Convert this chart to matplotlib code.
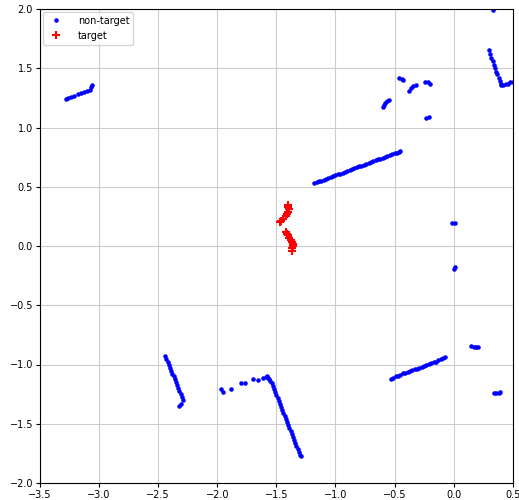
import matplotlib
matplotlib.use("Agg")
import matplotlib.pyplot as plt

# wall segments (non-target scan points)
wall_a_x = [-3.28, -3.26, -3.24, -3.21, -3.18, -3.15, -3.13, -3.10, -3.08, -3.07, -3.06]
wall_a_y = [1.24, 1.25, 1.26, 1.27, 1.28, 1.29, 1.30, 1.31, 1.32, 1.34, 1.36]

wall_b_x = [-1.18, -1.16, -1.14, -1.12, -1.10, -1.08, -1.06, -1.04, -1.02, -1.00,
            -0.98, -0.96, -0.94, -0.92, -0.90, -0.88, -0.86, -0.84, -0.82, -0.80,
            -0.78, -0.76, -0.74, -0.72, -0.70, -0.68, -0.66, -0.64, -0.62, -0.60,
            -0.58, -0.56, -0.54, -0.52, -0.50, -0.48, -0.46, -0.45]
wall_b_y = [0.530, 0.537, 0.545, 0.552, 0.560, 0.567, 0.574, 0.582, 0.589, 0.597,
            0.604, 0.611, 0.619, 0.626, 0.634, 0.641, 0.648, 0.656, 0.663, 0.671,
            0.678, 0.685, 0.693, 0.700, 0.708, 0.715, 0.722, 0.730, 0.737, 0.745,
            0.752, 0.759, 0.767, 0.774, 0.782, 0.789, 0.796, 0.800]

small_x = [-0.60, -0.59, -0.58, -0.56, -0.55,
           -0.46, -0.44, -0.43,
           -0.38, -0.36, -0.34, -0.32,
           -0.24, -0.22, -0.20,
           -0.23, -0.21,
           -0.01, 0.01, 0.00, 0.01,
           0.15, 0.17, 0.19, 0.21,
           0.34, 0.36, 0.38, 0.39,
           0.33]
small_y = [1.17, 1.19, 1.21, 1.22, 1.23,
           1.42, 1.41, 1.40,
           1.31, 1.33, 1.35, 1.36,
           1.38, 1.38, 1.37,
           1.08, 1.09,
           0.19, 0.19, -0.19, -0.18,
           -0.84, -0.85, -0.85, -0.85,
           -1.24, -1.24, -1.24, -1.23,
           1.995]

wall_c_x = [0.30, 0.31, 0.32, 0.33, 0.34, 0.35, 0.36, 0.37, 0.38, 0.39, 0.40, 0.40,
            0.42, 0.44, 0.46, 0.48, 0.50]
wall_c_y = [1.65, 1.62, 1.59, 1.56, 1.53, 1.50, 1.47, 1.45, 1.42, 1.39, 1.37, 1.36,
            1.36, 1.37, 1.37, 1.38, 1.38]

wall_d_x = [-2.44, -2.43, -2.42, -2.41, -2.40, -2.39, -2.38, -2.37, -2.36, -2.35,
            -2.34, -2.33, -2.32, -2.31, -2.30, -2.29, -2.31, -2.32]
wall_d_y = [-0.93, -0.955, -0.98, -1.005, -1.03, -1.055, -1.08, -1.10, -1.125, -1.15,
            -1.175, -1.20, -1.225, -1.25, -1.275, -1.30, -1.33, -1.35]

wall_e_x = [-1.97, -1.95, -1.885, -1.80, -1.766, -1.696, -1.659, -1.617, -1.589]
wall_e_y = [-1.21, -1.23, -1.204, -1.159, -1.154, -1.125, -1.131, -1.117, -1.103]

wall_f_x = [-1.58, -1.57, -1.56, -1.55, -1.54, -1.53, -1.52, -1.51, -1.50, -1.49,
            -1.48, -1.47, -1.46, -1.45, -1.44, -1.43, -1.42, -1.41, -1.40, -1.39,
            -1.38, -1.37, -1.36, -1.35, -1.34, -1.33, -1.32, -1.31, -1.30, -1.295]
wall_f_y = [-1.10, -1.11, -1.12, -1.14, -1.16, -1.185, -1.21, -1.235, -1.26, -1.285,
            -1.31, -1.335, -1.36, -1.385, -1.41, -1.435, -1.46, -1.485, -1.51, -1.535,
            -1.56, -1.585, -1.61, -1.635, -1.66, -1.685, -1.71, -1.735, -1.76, -1.775]

wall_g_x = [-0.53, -0.51, -0.49, -0.47, -0.45, -0.43, -0.41, -0.39, -0.37, -0.35,
            -0.33, -0.31, -0.29, -0.27, -0.25, -0.23, -0.21, -0.19, -0.17, -0.15,
            -0.13, -0.11, -0.09, -0.075]
wall_g_y = [-1.12, -1.11, -1.10, -1.095, -1.087, -1.075, -1.068, -1.06, -1.053, -1.045,
            -1.04, -1.035, -1.028, -1.02, -1.013, -1.005, -0.997, -0.99, -0.983, -0.975,
            -0.966, -0.955, -0.945, -0.934]

# target (person legs)
target_x = [-1.40, -1.40, -1.39, -1.40, -1.41, -1.42, -1.44, -1.46, -1.47,
            -1.42, -1.41, -1.40, -1.39, -1.38, -1.37, -1.36, -1.36, -1.37, -1.37]
target_y = [0.35, 0.33, 0.31, 0.29, 0.27, 0.25, 0.23, 0.21, 0.20,
            0.12, 0.10, 0.09, 0.07, 0.05, 0.03, 0.02, 0.00, -0.02, -0.04]

nontarget_x = wall_a_x + wall_b_x + small_x + wall_c_x + wall_d_x + wall_e_x + wall_f_x + wall_g_x
nontarget_y = wall_a_y + wall_b_y + small_y + wall_c_y + wall_d_y + wall_e_y + wall_f_y + wall_g_y

fig = plt.figure(figsize=(5.19, 5.0), dpi=100)
ax = fig.add_axes([0.077, 0.034, 0.911, 0.948])

ax.plot(nontarget_x, nontarget_y, '.', color='b', markersize=4.5, label='non-target')
ax.plot(target_x, target_y, '+', color='r', markersize=5.5, markeredgewidth=1.5, label='target')

ax.set_xlim(-3.5, 0.5)
ax.set_ylim(-2.0, 2.0)
ax.grid(True, color='#cccccc', linewidth=0.8)
ax.tick_params(labelsize=7, length=3, pad=2)
ax.legend(loc='upper left', fontsize=7, borderaxespad=0.3, handletextpad=1.2)

fig.savefig("out.png", dpi=100)
